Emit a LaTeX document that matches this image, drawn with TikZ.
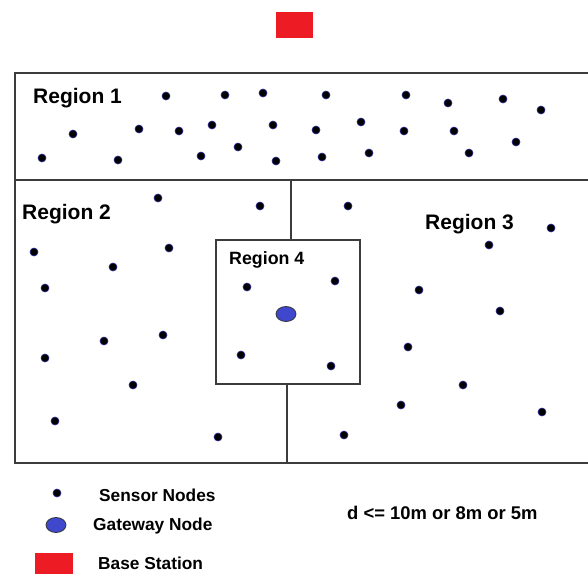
\documentclass[tikz,border=0pt]{standalone}
\usepackage{fontspec}
\setmainfont{Liberation Sans}
\usetikzlibrary{shapes.geometric}
\definecolor{bsred}{RGB}{237,28,36}
\definecolor{gwblue}{RGB}{63,72,204}
\definecolor{sensoredge}{RGB}{40,40,150}
\definecolor{linegray}{RGB}{60,60,60}
\begin{document}
\begin{tikzpicture}[x=1pt,y=-1pt,
  sensor/.style={circle,fill=black,draw=sensoredge,line width=0.6pt,inner sep=0pt,minimum size=8pt},
  gateway/.style={ellipse,fill=gwblue,draw=black!80,line width=0.8pt,inner sep=0pt,minimum width=20pt,minimum height=15pt},
  bstation/.style={rectangle,fill=bsred,draw=none,inner sep=0pt},
  border/.style={draw=linegray,line width=1.5pt},
  reglabel/.style={anchor=west,inner sep=0pt,font=\bfseries\fontsize{21}{21}\selectfont},
  smalllabel/.style={anchor=west,inner sep=0pt,font=\bfseries\fontsize{17.8}{17.8}\selectfont},
  legendlabel/.style={anchor=west,inner sep=0pt,font=\bfseries\fontsize{17.3}{17.3}\selectfont},
  distlabel/.style={anchor=west,inner sep=0pt,font=\bfseries\fontsize{18.4}{18.4}\selectfont}]
\useasboundingbox (0,0) rectangle (588,573);
\clip (0,0) rectangle (588,573);
% base station
\node[bstation,minimum width=37pt,minimum height=26pt] (bs) at (294.5,25) {};
% region borders
\draw[border] (15,73) rectangle (592,463);
\coordinate (divL) at (15,180);
\coordinate (divR) at (592,180);
\draw[border] (divL) -- (divR);
\node[draw=linegray,line width=1.5pt,minimum width=144pt,minimum height=144pt,inner sep=0pt] (r4) at (288,312) {};
\coordinate (topv) at (291,180);
\coordinate (botv) at (287,463);
\draw[border] (topv) -- (topv |- r4.north);
\draw[border] (botv |- r4.south) -- (botv);
% labels
\node[reglabel] (l1) at (33,98) {Region 1};
\node[reglabel] (l2) at (22,214) {Region 2};
\node[reglabel] (l3) at (425,224) {Region 3};
\node[smalllabel] (l4) at (229,260) {Region 4};
% region 1 sensors
\foreach \x/\y [count=\i] in {166/96,225/95,263/93,326/95,406/95,448/103,503/99,541/110,
  73/134,139/129,179/131,212/125,273/125,316/130,361/122,404/131,454/131,516/142,
  42/158,118/160,201/156,238/147,276/161,322/157,369/153,469/153}
  \node[sensor] (a\i) at (\x,\y) {};
% region 2 sensors
\foreach \x/\y [count=\i] in {158/198,260/206,34/252,169/248,113/267,45/288,104/341,163/335,45/358,133/385,55/421,218/437}
  \node[sensor] (b\i) at (\x,\y) {};
% region 3 sensors
\foreach \x/\y [count=\i] in {348/206,489/245,551/228,419/290,500/311,408/347,463/385,401/405,542/412,344/435}
  \node[sensor] (c\i) at (\x,\y) {};
% region 4 sensors
\foreach \x/\y [count=\i] in {247/287,335/281,241/355,331/366}
  \node[sensor] (d\i) at (\x,\y) {};
\node[gateway] (gw) at (286,314) {};
% legend
\node[sensor] (ls) at (57,493) {};
\node[legendlabel] (lst) at (99,495) {Sensor Nodes};
\node[gateway] (lg) at (56,525) {};
\node[legendlabel] (lgt) at (93,526) {Gateway Node};
\node[bstation,minimum width=38pt,minimum height=24pt] (lb) at (54,565) {};
\node[legendlabel] (lbt) at (98,563.5) {Base Station};
\node[distlabel] (dt) at (347,513) {d <= 10m or 8m or 5m};
\end{tikzpicture}
\end{document}
